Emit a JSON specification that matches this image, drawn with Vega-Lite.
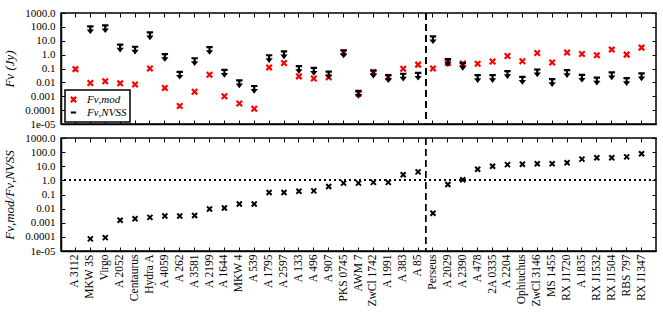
{
  "$schema": "https://vega.github.io/schema/vega-lite/v6.json",
  "background": "white",
  "padding": {"left": 3, "top": 6, "right": 5, "bottom": 3},
  "config": {
    "font": "Liberation Serif",
    "view": {"stroke": "black", "strokeWidth": 1.5},
    "axis": {
      "labelFont": "Liberation Serif", "labelFontSize": 11, "labelColor": "black",
      "tickColor": "black", "tickSize": -4, "tickWidth": 1, "labelPadding": 10,
      "domainColor": "black", "domainWidth": 1.5, "grid": false,
      "titleFont": "Liberation Serif", "titleFontSize": 13, "titleFontStyle": "italic",
      "titleFontWeight": "normal", "titleColor": "black"
    },
    "legend": {"strokeWidth": 1.5}
  },
  "datasets": {
    "flux": [
      {"cluster": "A 3112", "series": "Fν,mod", "flux": 0.09},
      {"cluster": "MKW 3S", "series": "Fν,mod", "flux": 0.009},
      {"cluster": "Virgo", "series": "Fν,mod", "flux": 0.012},
      {"cluster": "A 2052", "series": "Fν,mod", "flux": 0.0085},
      {"cluster": "Centaurus", "series": "Fν,mod", "flux": 0.007},
      {"cluster": "Hydra A", "series": "Fν,mod", "flux": 0.1},
      {"cluster": "A 4059", "series": "Fν,mod", "flux": 0.004},
      {"cluster": "A 262", "series": "Fν,mod", "flux": 0.0002},
      {"cluster": "A 3581", "series": "Fν,mod", "flux": 0.0021},
      {"cluster": "A 2199", "series": "Fν,mod", "flux": 0.035},
      {"cluster": "A 1644", "series": "Fν,mod", "flux": 0.001},
      {"cluster": "MKW 4", "series": "Fν,mod", "flux": 0.0003},
      {"cluster": "A 539", "series": "Fν,mod", "flux": 0.000125},
      {"cluster": "A 1795", "series": "Fν,mod", "flux": 0.12},
      {"cluster": "A 2597", "series": "Fν,mod", "flux": 0.25},
      {"cluster": "A 133", "series": "Fν,mod", "flux": 0.027},
      {"cluster": "A 496", "series": "Fν,mod", "flux": 0.019},
      {"cluster": "A 907", "series": "Fν,mod", "flux": 0.023},
      {"cluster": "PKS 0745", "series": "Fν,mod", "flux": 1.5},
      {"cluster": "AWM 7", "series": "Fν,mod", "flux": 0.0015},
      {"cluster": "ZwCl 1742", "series": "Fν,mod", "flux": 0.055},
      {"cluster": "A 1991", "series": "Fν,mod", "flux": 0.024},
      {"cluster": "A 383", "series": "Fν,mod", "flux": 0.095},
      {"cluster": "A 85", "series": "Fν,mod", "flux": 0.19},
      {"cluster": "Perseus", "series": "Fν,mod", "flux": 0.1},
      {"cluster": "A 2029", "series": "Fν,mod", "flux": 0.25},
      {"cluster": "A 2390", "series": "Fν,mod", "flux": 0.23},
      {"cluster": "A 478", "series": "Fν,mod", "flux": 0.22},
      {"cluster": "2A 0335", "series": "Fν,mod", "flux": 0.32},
      {"cluster": "A 2204", "series": "Fν,mod", "flux": 0.8},
      {"cluster": "Ophiuchus", "series": "Fν,mod", "flux": 0.33},
      {"cluster": "ZwCl 3146", "series": "Fν,mod", "flux": 1.3},
      {"cluster": "MS 1455", "series": "Fν,mod", "flux": 0.27},
      {"cluster": "RX J1720", "series": "Fν,mod", "flux": 1.4},
      {"cluster": "A 1835", "series": "Fν,mod", "flux": 1.1},
      {"cluster": "RX J1532", "series": "Fν,mod", "flux": 0.9},
      {"cluster": "RX J1504", "series": "Fν,mod", "flux": 2.3},
      {"cluster": "RBS 797", "series": "Fν,mod", "flux": 1.0},
      {"cluster": "RX J1347", "series": "Fν,mod", "flux": 3.2},
      {"cluster": "MKW 3S", "series": "Fν,NVSS", "flux": 110},
      {"cluster": "Virgo", "series": "Fν,NVSS", "flux": 130},
      {"cluster": "A 2052", "series": "Fν,NVSS", "flux": 5.2},
      {"cluster": "Centaurus", "series": "Fν,NVSS", "flux": 3.7},
      {"cluster": "Hydra A", "series": "Fν,NVSS", "flux": 40},
      {"cluster": "A 4059", "series": "Fν,NVSS", "flux": 1.1},
      {"cluster": "A 262", "series": "Fν,NVSS", "flux": 0.058},
      {"cluster": "A 3581", "series": "Fν,NVSS", "flux": 0.55},
      {"cluster": "A 2199", "series": "Fν,NVSS", "flux": 3.5},
      {"cluster": "A 1644", "series": "Fν,NVSS", "flux": 0.08},
      {"cluster": "MKW 4", "series": "Fν,NVSS", "flux": 0.014},
      {"cluster": "A 539", "series": "Fν,NVSS", "flux": 0.0055},
      {"cluster": "A 1795", "series": "Fν,NVSS", "flux": 0.9},
      {"cluster": "A 2597", "series": "Fν,NVSS", "flux": 1.7},
      {"cluster": "A 133", "series": "Fν,NVSS", "flux": 0.15},
      {"cluster": "A 496", "series": "Fν,NVSS", "flux": 0.11},
      {"cluster": "A 907", "series": "Fν,NVSS", "flux": 0.06},
      {"cluster": "PKS 0745", "series": "Fν,NVSS", "flux": 2.0},
      {"cluster": "AWM 7", "series": "Fν,NVSS", "flux": 0.0024},
      {"cluster": "ZwCl 1742", "series": "Fν,NVSS", "flux": 0.07},
      {"cluster": "A 1991", "series": "Fν,NVSS", "flux": 0.033},
      {"cluster": "A 383", "series": "Fν,NVSS", "flux": 0.042},
      {"cluster": "A 85", "series": "Fν,NVSS", "flux": 0.049},
      {"cluster": "Perseus", "series": "Fν,NVSS", "flux": 21},
      {"cluster": "A 2029", "series": "Fν,NVSS", "flux": 0.47},
      {"cluster": "A 2390", "series": "Fν,NVSS", "flux": 0.25},
      {"cluster": "A 478", "series": "Fν,NVSS", "flux": 0.033},
      {"cluster": "2A 0335", "series": "Fν,NVSS", "flux": 0.033},
      {"cluster": "A 2204", "series": "Fν,NVSS", "flux": 0.064},
      {"cluster": "Ophiuchus", "series": "Fν,NVSS", "flux": 0.025},
      {"cluster": "ZwCl 3146", "series": "Fν,NVSS", "flux": 0.085},
      {"cluster": "MS 1455", "series": "Fν,NVSS", "flux": 0.017},
      {"cluster": "RX J1720", "series": "Fν,NVSS", "flux": 0.076},
      {"cluster": "A 1835", "series": "Fν,NVSS", "flux": 0.035},
      {"cluster": "RX J1532", "series": "Fν,NVSS", "flux": 0.022},
      {"cluster": "RX J1504", "series": "Fν,NVSS", "flux": 0.052},
      {"cluster": "RBS 797", "series": "Fν,NVSS", "flux": 0.02},
      {"cluster": "RX J1347", "series": "Fν,NVSS", "flux": 0.044}
    ],
    "ratio": [
      {"cluster": "MKW 3S", "ratio": 0.000072},
      {"cluster": "Virgo", "ratio": 0.000089},
      {"cluster": "A 2052", "ratio": 0.0015},
      {"cluster": "Centaurus", "ratio": 0.0019},
      {"cluster": "Hydra A", "ratio": 0.0024},
      {"cluster": "A 4059", "ratio": 0.003},
      {"cluster": "A 262", "ratio": 0.003},
      {"cluster": "A 3581", "ratio": 0.0033},
      {"cluster": "A 2199", "ratio": 0.0095},
      {"cluster": "A 1644", "ratio": 0.011},
      {"cluster": "MKW 4", "ratio": 0.021},
      {"cluster": "A 539", "ratio": 0.021},
      {"cluster": "A 1795", "ratio": 0.14},
      {"cluster": "A 2597", "ratio": 0.14},
      {"cluster": "A 133", "ratio": 0.17},
      {"cluster": "A 496", "ratio": 0.18},
      {"cluster": "A 907", "ratio": 0.37},
      {"cluster": "PKS 0745", "ratio": 0.64},
      {"cluster": "AWM 7", "ratio": 0.64},
      {"cluster": "ZwCl 1742", "ratio": 0.72},
      {"cluster": "A 1991", "ratio": 0.72},
      {"cluster": "A 383", "ratio": 2.5},
      {"cluster": "A 85", "ratio": 4.0},
      {"cluster": "Perseus", "ratio": 0.0047},
      {"cluster": "A 2029", "ratio": 0.51},
      {"cluster": "A 2390", "ratio": 1.1},
      {"cluster": "A 478", "ratio": 6.1},
      {"cluster": "2A 0335", "ratio": 10},
      {"cluster": "A 2204", "ratio": 13},
      {"cluster": "Ophiuchus", "ratio": 14},
      {"cluster": "ZwCl 3146", "ratio": 15},
      {"cluster": "MS 1455", "ratio": 15},
      {"cluster": "RX J1720", "ratio": 17.5},
      {"cluster": "A 1835", "ratio": 32},
      {"cluster": "RX J1532", "ratio": 40},
      {"cluster": "RX J1504", "ratio": 40},
      {"cluster": "RBS 797", "ratio": 46},
      {"cluster": "RX J1347", "ratio": 76}
    ]
  },
  "spacing": 1,
  "vconcat": [
    {
      "width": 595,
      "height": 111,
      "data": {"name": "flux"},
      "resolve": {"axis": {"x": "independent", "y": "independent"}, "scale": {"color": "independent", "shape": "independent"}},
      "layer": [
        {
          "mark": {"type": "point", "filled": false, "strokeWidth": 2.2, "opacity": 1},
          "encoding": {
            "x": {"field": "cluster", "type": "nominal",
              "scale": {"type": "band", "paddingInner": 0, "paddingOuter": 0.47,
                "domain": ["A 3112","MKW 3S","Virgo","A 2052","Centaurus","Hydra A","A 4059","A 262","A 3581","A 2199","A 1644","MKW 4","A 539","A 1795","A 2597","A 133","A 496","A 907","PKS 0745","AWM 7","ZwCl 1742","A 1991","A 383","A 85","Perseus","A 2029","A 2390","A 478","2A 0335","A 2204","Ophiuchus","ZwCl 3146","MS 1455","RX J1720","A 1835","RX J1532","RX J1504","RBS 797","RX J1347"]},
              "axis": {"labels": false, "title": null}},
            "y": {"field": "flux", "type": "quantitative",
              "scale": {"type": "log", "domain": [0.00001, 1000], "nice": false},
              "axis": {"values": [0.00001, 0.0001, 0.001, 0.01, 0.1, 1, 10, 100, 1000],
                "labelExpr": "datum.value >= 1 ? format(datum.value, '.1f') : (datum.value < 0.00002 ? '1e-05' : format(datum.value, '~g'))",
                "title": "Fν (Jy)", "titlePadding": 8}},
            "color": {"field": "series", "type": "nominal", "legend": null,
              "scale": {"domain": ["Fν,mod", "Fν,NVSS"], "range": ["#ff0000", "#000000"]}},
            "shape": {"field": "series", "type": "nominal", "legend": null,
              "scale": {"domain": ["Fν,mod", "Fν,NVSS"], "range": ["M-1,-1L1,1M-1,1L1,-1", "M-0.8,0L0.8,0M0,0L0,1.1M-0.35,1.05L0.35,1.05L0,1.5Z"]}},
            "size": {"field": "series", "type": "nominal", "legend": null,
              "scale": {"domain": ["Fν,mod", "Fν,NVSS"], "range": [30, 64]}}
          }
        },
        {
          "mark": {"type": "point", "filled": false, "opacity": 0, "strokeWidth": 2},
          "encoding": {
            "x": {"field": "cluster", "type": "nominal", "axis": null},
            "y": {"field": "flux", "type": "quantitative", "axis": null},
            "color": {"field": "series", "type": "nominal",
              "scale": {"domain": ["Fν,mod", "Fν,NVSS"], "range": ["#ff0000", "#000000"]},
              "legend": {"title": null, "orient": "none", "legendX": 4, "legendY": 77, "padding": 3,
                "strokeColor": "black", "fillColor": "white",
                "labelFont": "Liberation Serif", "labelFontSize": 11, "labelFontStyle": "italic", "labelColor": "black",
                "symbolStrokeWidth": 2.2, "symbolSize": 28, "symbolOpacity": 1, "rowPadding": 0, "clipHeight": 13, "labelOffset": 8}},
            "shape": {"field": "series", "type": "nominal",
              "scale": {"domain": ["Fν,mod", "Fν,NVSS"], "range": ["M-1,-1L1,1M-1,1L1,-1", "M-1,0L1,0"]},
              "legend": {"title": null, "orient": "none", "legendX": 4, "legendY": 77, "padding": 3,
                "strokeColor": "black", "fillColor": "white",
                "labelFont": "Liberation Serif", "labelFontSize": 11, "labelFontStyle": "italic", "labelColor": "black",
                "symbolStrokeWidth": 2.2, "symbolSize": 28, "symbolOpacity": 1, "rowPadding": 0, "clipHeight": 13, "labelOffset": 8}}
          }
        },
        {
          "mark": {"type": "rule", "color": "black", "strokeDash": [7, 4], "strokeWidth": 1},
          "encoding": {"x": {"datum": "A 85", "type": "nominal", "bandPosition": 1, "axis": null}}
        },
        {
          "mark": {"type": "point", "opacity": 0},
          "encoding": {
            "x": {"field": "cluster", "type": "nominal", "axis": {"orient": "top", "labels": false, "title": null, "domain": false}},
            "y": {"field": "flux", "type": "quantitative", "axis": {"orient": "right", "labels": false, "title": null, "domain": false, "values": [0.00001, 0.0001, 0.001, 0.01, 0.1, 1, 10, 100, 1000]}}
          }
        }
      ]
    },
    {
      "width": 595,
      "height": 113,
      "data": {"name": "ratio"},
      "resolve": {"axis": {"x": "independent", "y": "independent"}},
      "layer": [
        {
          "mark": {"type": "point", "filled": false, "strokeWidth": 2, "opacity": 1, "size": 25, "color": "black",
            "shape": "M-1,-1L1,1M-1,1L1,-1"},
          "encoding": {
            "x": {"field": "cluster", "type": "nominal",
              "scale": {"type": "band", "paddingInner": 0, "paddingOuter": 0.47,
                "domain": ["A 3112","MKW 3S","Virgo","A 2052","Centaurus","Hydra A","A 4059","A 262","A 3581","A 2199","A 1644","MKW 4","A 539","A 1795","A 2597","A 133","A 496","A 907","PKS 0745","AWM 7","ZwCl 1742","A 1991","A 383","A 85","Perseus","A 2029","A 2390","A 478","2A 0335","A 2204","Ophiuchus","ZwCl 3146","MS 1455","RX J1720","A 1835","RX J1532","RX J1504","RBS 797","RX J1347"]},
              "axis": {"title": null, "labelAngle": -90, "labelFontSize": 11.5, "labelPadding": 7}},
            "y": {"field": "ratio", "type": "quantitative",
              "scale": {"type": "log", "domain": [0.00001, 1000], "nice": false},
              "axis": {"values": [0.00001, 0.0001, 0.001, 0.01, 0.1, 1, 10, 100, 1000],
                "labelExpr": "datum.value >= 1 ? format(datum.value, '.1f') : (datum.value < 0.00002 ? '1e-05' : format(datum.value, '~g'))",
                "title": "Fν,mod/Fν,NVSS", "titlePadding": 8}}
          }
        },
        {
          "mark": {"type": "rule", "color": "black", "strokeDash": [2, 3], "strokeWidth": 1.3},
          "encoding": {"y": {"datum": 1, "type": "quantitative", "axis": null}}
        },
        {
          "mark": {"type": "rule", "color": "black", "strokeDash": [7, 4], "strokeWidth": 1},
          "encoding": {"x": {"datum": "A 85", "type": "nominal", "bandPosition": 1, "axis": null}}
        },
        {
          "mark": {"type": "point", "opacity": 0},
          "encoding": {
            "x": {"field": "cluster", "type": "nominal", "axis": {"orient": "top", "labels": false, "title": null, "domain": false}},
            "y": {"field": "ratio", "type": "quantitative", "axis": {"orient": "right", "labels": false, "title": null, "domain": false, "values": [0.00001, 0.0001, 0.001, 0.01, 0.1, 1, 10, 100, 1000]}}
          }
        }
      ]
    }
  ]
}
